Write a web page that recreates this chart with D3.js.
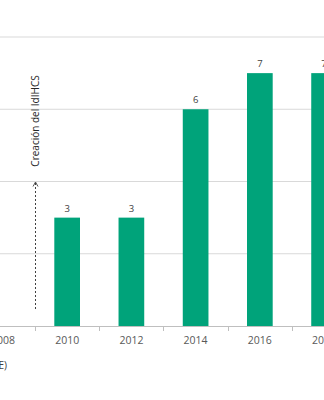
<!DOCTYPE html>
<html>
<head>
<meta charset="utf-8">
<script src="https://cdn.jsdelivr.net/npm/d3@7"></script>
<style>
  html, body { margin: 0; padding: 0; background: #fff; }
  svg { display: block; font-family: "Open Sans", "Liberation Sans", sans-serif; }
</style>
</head>
<body>
<svg id="chart" width="324" height="400"></svg>
<script>
// Años de la serie y cantidad por año
const years = ["2008", "2010", "2012", "2014", "2016", "2018"];
const counts = [null, 3, 3, 6, 7, 7];
const yTicks = [0, 2, 4, 6, 8];
const annotation = "Creación del IdIHCS";
const sourceNote = "Fuente: elaboración propia (IdIHCS-FaHCE)";

const svg = d3.select("#chart");
const baseY = 326, topY = 37;

const x = d3.scaleBand()
  .domain(years)
  .range([-29.2, 356.2])
  .paddingInner(0.6)
  .paddingOuter(0.3);

const y = d3.scaleLinear().domain([0, 8]).range([baseY, topY]);

// Líneas de la cuadrícula horizontal
svg.append("g")
  .selectAll("line")
  .data(yTicks.filter(d => d > 0))
  .join("line")
  .attr("x1", 0).attr("x2", 324)
  .attr("y1", d => y(d)).attr("y2", d => y(d))
  .attr("stroke", "#d9d9d9").attr("stroke-width", 1);

// Barras
const data = years.map((yr, i) => ({ yr, v: counts[i] })).filter(d => d.v != null);
svg.append("g")
  .selectAll("rect")
  .data(data)
  .join("rect")
  .attr("x", d => x(d.yr))
  .attr("width", x.bandwidth())
  .attr("y", d => y(d.v))
  .attr("height", d => y(0) - y(d.v))
  .attr("fill", "#00a37a");

// Etiquetas de valor
svg.append("g")
  .selectAll("text")
  .data(data)
  .join("text")
  .attr("x", d => x(d.yr) + x.bandwidth() / 2)
  .attr("y", d => y(d.v) - 6)
  .attr("text-anchor", "middle")
  .attr("font-size", 9.5)
  .attr("fill", "#404040")
  .text(d => d.v);

// Eje horizontal con marcas entre categorías
const axisG = svg.append("g");
axisG.append("line")
  .attr("x1", 0).attr("x2", 324)
  .attr("y1", baseY + 0.5).attr("y2", baseY + 0.5)
  .attr("stroke", "#bfbfbf");
const step = x.step();
const bounds = years.map(yr => x(yr) - (step - x.bandwidth()) / 2).concat([x(years[years.length - 1]) + x.bandwidth() + (step - x.bandwidth()) / 2]);
axisG.selectAll("line.tick")
  .data(bounds)
  .join("line")
  .attr("class", "tick")
  .attr("x1", d => Math.round(d) + 0.5).attr("x2", d => Math.round(d) + 0.5)
  .attr("y1", baseY).attr("y2", baseY + 5)
  .attr("stroke", "#bfbfbf");
axisG.selectAll("text")
  .data(years)
  .join("text")
  .attr("x", d => x(d) + x.bandwidth() / 2)
  .attr("y", 344)
  .attr("text-anchor", "middle")
  .attr("font-size", 10.5)
  .attr("fill", "#595959")
  .text(d => d);

// Marca de la creación del instituto: línea punteada con flecha
const markX = Math.round(bounds[1]) + 0.5;
svg.append("line")
  .attr("x1", markX).attr("x2", markX)
  .attr("y1", 183).attr("y2", 310)
  .attr("stroke", "#404040")
  .attr("stroke-width", 1)
  .attr("stroke-dasharray", "2,2");
svg.append("path")
  .attr("d", `M${markX - 2.5},${186.5} L${markX},${182} L${markX + 2.5},${186.5}`)
  .attr("fill", "none")
  .attr("stroke", "#404040")
  .attr("stroke-width", 0.9);
svg.append("text")
  .attr("transform", `translate(${markX + 3.5},121) rotate(-90)`)
  .attr("text-anchor", "middle")
  .attr("font-size", 10)
  .attr("fill", "#262626")
  .text(annotation);

// Nota de fuente
svg.append("text")
  .attr("x", 7)
  .attr("y", 369)
  .attr("text-anchor", "end")
  .attr("font-size", 10)
  .attr("fill", "#404040")
  .text(sourceNote);
</script>
</body>
</html>
